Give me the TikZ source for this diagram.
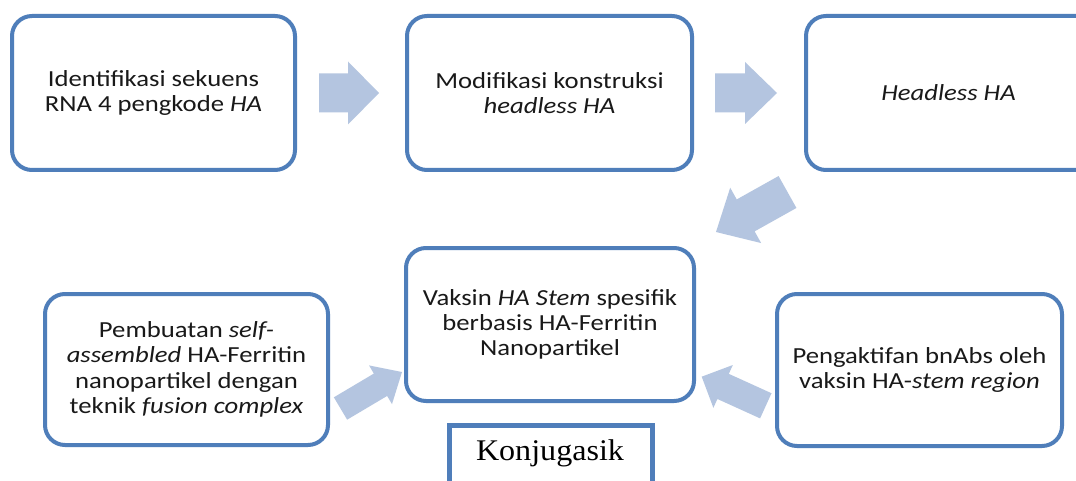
\documentclass[tikz,border=0pt]{standalone}
\usepackage{fontspec}
\setmainfont{Carlito}[FakeStretch=1.16]
\newfontfamily\timesfont{Liberation Serif}[FakeStretch=1.07]
\usetikzlibrary{calc}
\definecolor{boxline}{RGB}{79,126,186}
\definecolor{arrfill}{RGB}{180,197,224}
\definecolor{txt}{RGB}{25,25,25}
\tikzset{
  stepbox/.style={draw=boxline, line width=4pt, rounded corners=20pt, fill=white,
    align=center, text=txt, font=\fontsize{23}{25.3}\selectfont, inner sep=0pt},
  konjbox/.style={draw=boxline, line width=5pt, fill=white},
  arrowfill/.style={fill=arrfill, draw=none}
}
% tail, tip, shaft half width, head half width, head length
\newcommand\blockarr[5]{%
  \coordinate (N) at ($(#2)!#5!(#1)$);
  \fill[arrfill] ($(#1)!#3!90:(#2)$) -- ($(N)!#3!-90:(#1)$) -- ($(N)!#4!-90:(#1)$) -- (#2)
    -- ($(N)!#4!90:(#1)$) -- ($(N)!#3!90:(#1)$) -- ($(#1)!#3!-90:(#2)$) -- cycle;
}
\begin{document}
\begin{tikzpicture}[x=1pt,y=-1pt]
\useasboundingbox (0,0) rectangle (1076,481);
\clip (0,0) rectangle (1076,481);
\fill[white] (0,0) rectangle (1076,481);

\node[stepbox, minimum width=283pt, minimum height=154pt] (b1) at (153.5,93)
  {Identifikasi sekuens\\RNA 4 pengkode \textit{HA}};
\node[stepbox, minimum width=285pt, minimum height=154pt] (b2) at (549.5,93)
  {Modifikasi konstruksi\\\textit{headless HA}};
\node[stepbox, minimum width=300pt, minimum height=154pt, anchor=west] (b3) at (804,93)
  {\hspace*{-15pt}\textit{Headless HA}};
\node[stepbox, minimum width=288pt, minimum height=153pt] (b4) at (550,324.5)
  {Vaksin \textit{HA Stem} spesifik\\berbasis HA-Ferritin\\Nanopartikel};
\node[stepbox, minimum width=283pt, minimum height=151pt] (b5) at (186.5,369.5)
  {Pembuatan \textit{self-}\\\textit{assembled} HA-Ferritin\\nanopartikel dengan\\teknik \textit{fusion complex}};
\node[stepbox, minimum width=285pt, minimum height=152pt] (b6) at (919.5,370)
  {Pengaktifan bnAbs oleh\\vaksin HA-\textit{stem region}};
\node[konjbox, minimum width=203pt, minimum height=90pt, anchor=north] (konj) at (550.5,423) {};
\node[anchor=base, inner sep=0pt, font=\timesfont\fontsize{30}{32}\selectfont] (konjtext) at (550,460) {Konjugasik};

\coordinate (t1) at (319,93);   \coordinate (p1) at (379,93);
\coordinate (t2) at (715,93);   \coordinate (p2) at (777,93);
\coordinate (t3) at (787.5,192); \coordinate (p3) at (716,232);
\coordinate (t4) at (340.5,408.5); \coordinate (p4) at (402,372);
\coordinate (t5) at (765.8,405.8); \coordinate (p5) at (701.7,376.7);
\blockarr{t1}{p1}{19.5pt}{31.5pt}{31pt}
\blockarr{t2}{p2}{19.5pt}{31pt}{32pt}
\blockarr{t3}{p3}{18.3pt}{31.7pt}{34pt}
\blockarr{t4}{p4}{13pt}{22.5pt}{25pt}
\blockarr{t5}{p5}{13.8pt}{23.5pt}{23.5pt}
\end{tikzpicture}
\end{document}
